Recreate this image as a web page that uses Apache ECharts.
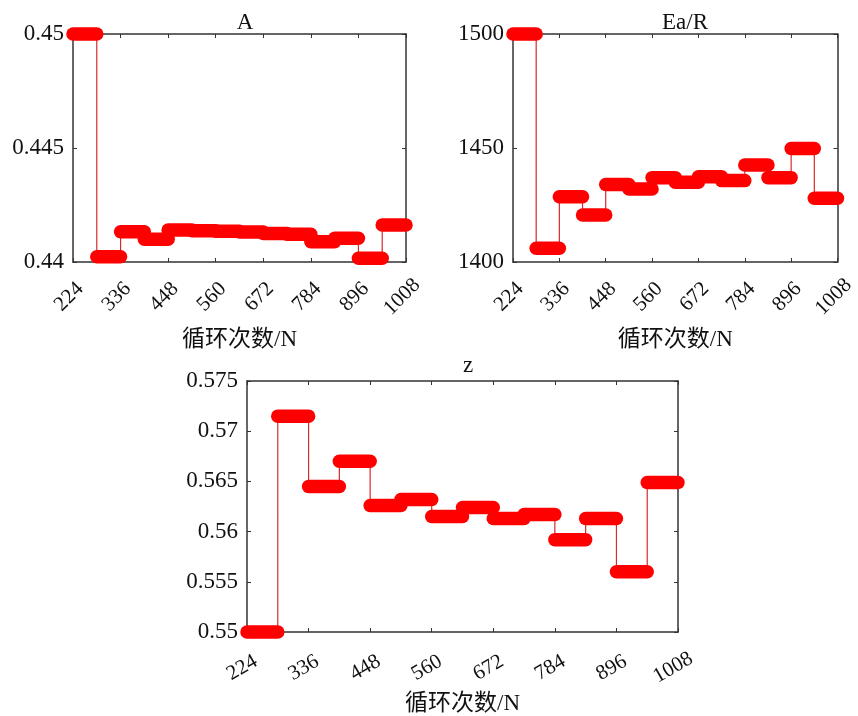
<!DOCTYPE html>
<html>
<head>
<meta charset="utf-8">
<script src="https://cdn.jsdelivr.net/npm/echarts@6/dist/echarts.min.js"></script>
<style>html,body{margin:0;padding:0;background:#fff}#c{width:858px;height:716px}</style>
</head>
<body>
<div id="c"></div>
<script>
// Segment edges (cycle numbers) — each step spans edges[i]..edges[i+1]
const edges = [224, 280, 336, 392, 448, 504, 560, 616, 672, 728, 784, 840, 896, 952, 1008];
const xTicks = [224, 336, 448, 560, 672, 784, 896, 1008];
const titles = ['A', 'Ea/R', 'z'];
const xName = '循环次数/N';
const valuesA = [0.4500, 0.44023, 0.44133, 0.44100, 0.44140, 0.44137, 0.44135, 0.44132, 0.44125, 0.44122, 0.44089, 0.44104, 0.44016, 0.44162];
const valuesEa = [1500, 1406, 1428.6, 1420.6, 1434, 1432, 1437, 1435, 1437.4, 1435.7, 1442.5, 1437, 1449.8, 1428];
const valuesZ = [0.5500, 0.5715, 0.5645, 0.5670, 0.5626, 0.5632, 0.5615, 0.5624, 0.5613, 0.5617, 0.5592, 0.5613, 0.5560, 0.5649];
const yTicksA = [0.44, 0.445, 0.45];
const yTicksEa = [1400, 1450, 1500];
const yTicksZ = [0.55, 0.555, 0.56, 0.565, 0.57, 0.575];

const SERIF = '"Liberation Serif", "Times New Roman", serif';
const CJK = '"Liberation Serif", "Noto Sans CJK SC", serif';

function segData(vals) {
  return vals.map((v, i) => [edges[i], edges[i + 1], v]);
}
function stepData(vals) {
  const d = vals.map((v, i) => [edges[i], v]);
  d.push([edges[edges.length - 1], vals[vals.length - 1]]);
  return d;
}
function fmtY(v) { return String(parseFloat(v.toFixed(4))); }

const grids = [
  { left: 73, top: 34, width: 333, height: 228 },
  { left: 513, top: 34, width: 333, height: 228 },
  { left: 247, top: 381, width: 431, height: 253 }
];
const yRanges = [
  { ticks: yTicksA, interval: 0.005 },
  { ticks: yTicksEa, interval: 50 },
  { ticks: yTicksZ, interval: 0.005 }
];
const allVals = [valuesA, valuesEa, valuesZ];
const rot = [45, 45, 30];
const margins = [31, 31, 33];
const nameGaps = [66, 66, 60];

const axisLineStyle = { color: '#333', width: 1.5 };
const xAxes = [], yAxes = [], series = [];
grids.forEach((g, i) => {
  const common = { gridIndex: i, type: 'value', min: edges[0], max: edges[edges.length - 1], interval: 112, splitLine: { show: false } };
  xAxes.push(Object.assign({}, common, {
    position: 'bottom',
    axisLine: { lineStyle: axisLineStyle },
    axisTick: { inside: true, length: 4, lineStyle: { color: '#333' } },
    axisLabel: { rotate: rot[i], fontFamily: SERIF, fontSize: 21, color: '#111', margin: margins[i],
      align: 'center', verticalAlign: 'middle', padding: [0, 11, 0, 0],
      formatter: v => xTicks.indexOf(v) >= 0 ? String(v) : '' },
    name: xName, nameLocation: 'middle', nameGap: nameGaps[i],
    nameTextStyle: { fontFamily: CJK, fontSize: 23, color: '#111', verticalAlign: 'top' }
  }));
  xAxes.push(Object.assign({}, common, {
    position: 'top',
    axisLine: { lineStyle: axisLineStyle },
    axisTick: { inside: true, length: 4, lineStyle: { color: '#333' } },
    axisLabel: { show: false }
  }));
  const r = yRanges[i];
  const yc = { gridIndex: i, type: 'value', min: r.ticks[0], max: r.ticks[r.ticks.length - 1], interval: r.interval, splitLine: { show: false } };
  yAxes.push(Object.assign({}, yc, {
    position: 'left',
    axisLine: { show: true, lineStyle: axisLineStyle },
    axisTick: { show: true, inside: true, length: 4, lineStyle: { color: '#333' } },
    axisLabel: { fontFamily: SERIF, fontSize: 23, color: '#111', margin: 9, formatter: fmtY }
  }));
  yAxes.push(Object.assign({}, yc, {
    position: 'right',
    axisLine: { show: true, lineStyle: axisLineStyle },
    axisTick: { show: true, inside: true, length: 4, lineStyle: { color: '#333' } },
    axisLabel: { show: false }
  }));
  series.push({
    type: 'line', xAxisIndex: 2 * i, yAxisIndex: 2 * i, step: 'end',
    data: stepData(allVals[i]), showSymbol: false, symbol: 'none',
    lineStyle: { color: '#d42a2a', width: 1.2 }, z: 2, animation: false, silent: true
  });
  series.push({
    type: 'custom', xAxisIndex: 2 * i, yAxisIndex: 2 * i,
    data: segData(allVals[i]), clip: false, z: 3, animation: false, silent: true,
    encode: { x: [0, 1], y: 2 },
    renderItem: (params, api) => {
      const p0 = api.coord([api.value(0), api.value(2)]);
      const p1 = api.coord([api.value(1), api.value(2)]);
      return { type: 'line', shape: { x1: p0[0], y1: p0[1], x2: p1[0], y2: p1[1] },
        style: { stroke: '#ff0000', lineWidth: 13.5, lineCap: 'round' } };
    }
  });
});

const titleStyle = { fontFamily: SERIF, fontSize: 23, fontWeight: 'normal', color: '#111' };
const chart = echarts.init(document.getElementById('c'), null, { renderer: 'canvas' });
chart.setOption({
  animation: false,
  backgroundColor: '#fff',
  title: [
    { text: titles[0], left: 240, top: 6, textAlign: 'center', textStyle: titleStyle },
    { text: titles[1], left: 680, top: 6, textAlign: 'center', textStyle: titleStyle },
    { text: titles[2], left: 463, top: 349, textAlign: 'center', textStyle: titleStyle }
  ],
  grid: grids,
  xAxis: xAxes,
  yAxis: yAxes,
  series: series
});
</script>
</body>
</html>
